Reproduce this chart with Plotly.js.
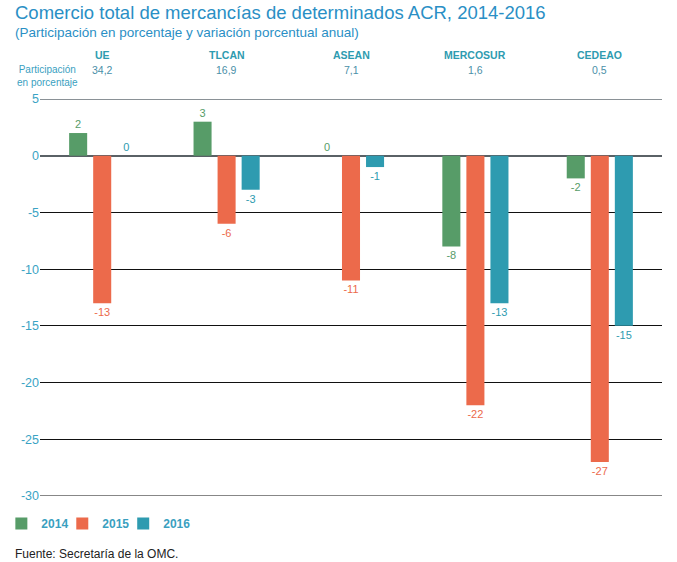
<!DOCTYPE html>
<html><head><meta charset="utf-8">
<script src="https://cdn.plot.ly/plotly-3.0.1.min.js"></script>
<style>body{margin:0;background:#fff}#c{width:677px;height:562px}</style>
</head><body><div id="c"></div>
<script>
const categories = ["UE", "TLCAN", "ASEAN", "MERCOSUR", "CEDEAO"];
const shares = ["34,2", "16,9", "7,1", "1,6", "0,5"];
const v2014 = [2, 3, 0, -8, -2];
const v2015 = [-13, -6, -11, -22, -27];
const v2016 = [0, -3, -1, -13, -15];
const years = ["2014", "2015", "2016"];
const colors = ["#579c68", "#ec6a4b", "#2e9bb0"];
const series = [v2014, v2015, v2016];
const yTicks = [5, 0, -5, -10, -15, -20, -25, -30];

const font = "Liberation Sans, Arial, sans-serif";
const legendNames = ["legend", "legend2", "legend3"];

const traces = series.map((vals, i) => ({
  type: "bar", name: years[i], x: categories, y: vals,
  marker: {color: colors[i]},
  text: vals.map(String), textposition: "outside", cliponaxis: false,
  textfont: {family: font, size: 11, color: colors[i]},
  legend: legendNames[i],
  hoverinfo: "skip"
}));

const annotations = [];
annotations.push({xref: "paper", yref: "paper", x: 0, xshift: -27, y: 1, yshift: 87,
  text: "Comercio total de mercancías de determinados ACR, 2014-2016", showarrow: false,
  xanchor: "left", yanchor: "middle", font: {family: font, size: 18.5, color: "#2a8fc5"}});
annotations.push({xref: "paper", yref: "paper", x: 0, xshift: -27, y: 1, yshift: 67,
  text: "(Participación en porcentaje y variación porcentual anual)", showarrow: false,
  xanchor: "left", yanchor: "middle", font: {family: font, size: 13.5, color: "#2a8fc5"}});
categories.forEach((c, i) => {
  annotations.push({xref: "x", yref: "paper", x: c, y: 1, yshift: 44, text: "<b>" + c + "</b>",
    showarrow: false, font: {family: font, size: 10.5, color: "#2e9bb0"}, yanchor: "middle"});
  annotations.push({xref: "x", yref: "paper", x: c, y: 1, yshift: 29, text: shares[i],
    showarrow: false, font: {family: font, size: 10.5, color: "#4a8fa8"}, yanchor: "middle"});
});
annotations.push({xref: "paper", yref: "paper", x: 0, xshift: 7, y: 1, yshift: 23,
  text: "Participación<br>en porcentaje", showarrow: false, align: "center",
  xanchor: "center", yanchor: "middle",
  font: {family: font, size: 10, color: "#3a9fbf"}});
annotations.push({xref: "paper", yref: "paper", x: 0, xshift: -27, y: 0, yshift: -58,
  text: "Fuente: Secretaría de la OMC.", showarrow: false, xanchor: "left", yanchor: "middle",
  font: {family: font, size: 12, color: "#222"}});

const shapes = [];
shapes.push({type: "line", xref: "paper", yref: "y", x0: 0, x1: 1, y0: 5, y1: 5,
  line: {color: "#8a9196", width: 2}});
shapes.push({type: "line", xref: "paper", yref: "y", x0: 0, x1: 1, y0: -30, y1: -30,
  line: {color: "#111", width: 1.2}});
for (let k = 0; k < categories.length - 1; k++) {
  shapes.push({type: "line", xref: "x", yref: "y", x0: k + 0.5, x1: k + 0.5, y0: 5, y1: 5.45,
    line: {color: "#8a9196", width: 1.2}});
}

const legendBase = {orientation: "h", xref: "container", yref: "container", xanchor: "left",
  yanchor: "top", y: 0.0943, font: {family: font, size: 12, color: "#3a9fbf", weight: "bold"},
  itemwidth: 30, bgcolor: "rgba(0,0,0,0)"};
const legendX = [0.002, 0.092, 0.182];

const layout = {
  width: 677, height: 562,
  margin: {l: 40, r: 15, t: 99, b: 66, autoexpand: false},
  paper_bgcolor: "#fff", plot_bgcolor: "#fff",
  barmode: "group", bargap: 0.42, bargroupgap: 0.25,
  xaxis: {type: "category", range: [-0.5, 4.5], autorange: false, showticklabels: false,
    showgrid: false, zeroline: false, showline: false, ticks: ""},
  yaxis: {range: [-30, 5], autorange: false, automargin: false, tickvals: yTicks,
    ticktext: yTicks.map(String),
    showgrid: true, gridcolor: "#111", gridwidth: 1.2,
    zeroline: true, zerolinecolor: "#5a6166", zerolinewidth: 2.2,
    showline: false, ticks: "", ticklen: 0,
    tickfont: {family: font, size: 12.5, color: "#3aa3c4"}},
  showlegend: true,
  annotations: annotations, shapes: shapes
};
legendNames.forEach((ln, i) => { layout[ln] = Object.assign({}, legendBase, {x: legendX[i]}); });

Plotly.newPlot("c", traces, layout, {displayModeBar: false, staticPlot: true});
</script></body></html>
